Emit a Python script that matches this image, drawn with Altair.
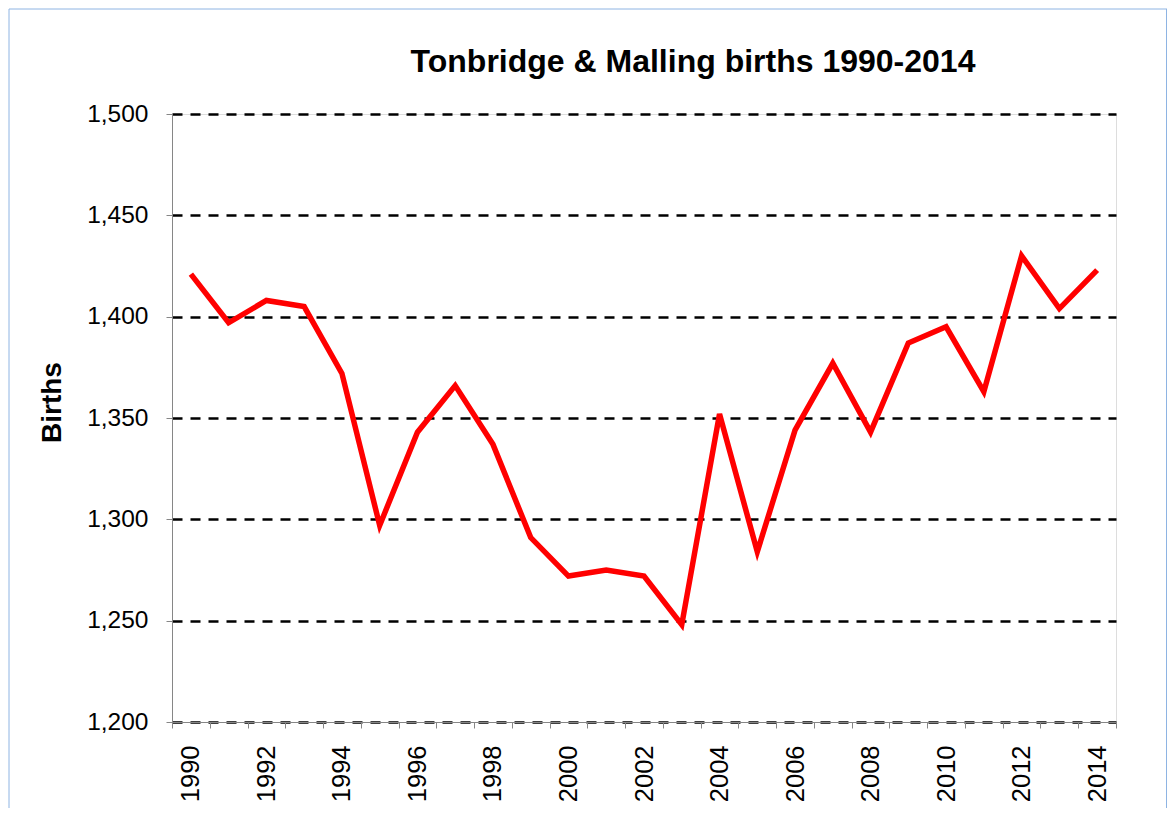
import altair as alt
import pandas as pd

# ---- data ----
years = list(range(1990, 2015))
births = [1421, 1397, 1408, 1405, 1372, 1297, 1343, 1366, 1337, 1291,
          1272, 1275, 1272, 1248, 1352, 1284, 1344, 1377, 1343, 1387,
          1395, 1363, 1430, 1404, 1423]
y_ticks = [1200, 1250, 1300, 1350, 1400, 1450, 1500]
title_text = "Tonbridge & Malling births 1990-2014"
y_title = "Births"

df = pd.DataFrame({"Year": years, "Births": births})

FONT = "Liberation Sans"
AXIS_GRAY = "#868686"
BORDER = "#8EB4E3"

line = alt.Chart(df).mark_line(color="#FF0000", strokeWidth=5.5, strokeJoin="miter").encode(
    x=alt.X(
        "Year:O",
        bandPosition=0.5,
        scale=alt.Scale(type="band", paddingInner=0, paddingOuter=0),
        axis=alt.Axis(
            title=None,
            labelAngle=270,
            labelExpr="datum.value % 2 == 0 ? datum.label : ''",
            tickBand="extent",
            tickSize=6,
            tickColor=AXIS_GRAY,
            domainColor=AXIS_GRAY,
            labelPadding=17,
            labelFont=FONT,
            labelFontSize=25.5,
            labelColor="black",
            grid=False,
        ),
    ),
    y=alt.Y(
        "Births:Q",
        scale=alt.Scale(domain=[1200, 1500], nice=False, zero=False),
        axis=alt.Axis(
            values=y_ticks,
            format=",.0f",
            title=y_title,
            titleFont=FONT,
            titleFontSize=28,
            titleFontWeight="bold",
            titleColor="black",
            titleX=-112,
            titleY=288,
            titleBaseline="alphabetic",
            titleAngle=270,
            labelFont=FONT,
            labelFontSize=24.5,
            labelColor="black",
            labelPadding=18,
            tickSize=6,
            tickColor=AXIS_GRAY,
            domainColor=AXIS_GRAY,
            grid=True,
            gridColor="black",
            gridDash=[10, 8],
            gridWidth=2.5,
        ),
    ),
)

one = alt.InlineData(values=[{"a": 1}])
left_border = alt.Chart(one).mark_rule(color=BORDER, strokeWidth=1).encode(
    x=alt.value(-163), y=alt.value(-105), y2=alt.value(700)
)
top_border = alt.Chart(one).mark_rule(color=BORDER, strokeWidth=1).encode(
    x=alt.value(-163), x2=alt.value(995), y=alt.value(-105)
)
right_border = alt.Chart(one).mark_rule(color=BORDER, strokeWidth=1).encode(
    x=alt.value(994.5), y=alt.value(-105), y2=alt.value(700)
)

chart = alt.layer(left_border, top_border, right_border, line).properties(
    width=944,
    height=608,
    title=alt.TitleParams(
        text=title_text,
        font=FONT,
        fontSize=32,
        fontWeight="bold",
        color="black",
        anchor="middle",
        frame="group",
        dx=49,
        baseline="alphabetic",
        offset=-95,
    ),
    autosize=alt.AutoSizeParams(type="none"),
    padding={"left": 164, "top": 106, "right": 52, "bottom": 86},
).configure_view(strokeOpacity=0).configure(background="white")

chart.save("out.html", embed_options={"renderer": "svg", "actions": False})
